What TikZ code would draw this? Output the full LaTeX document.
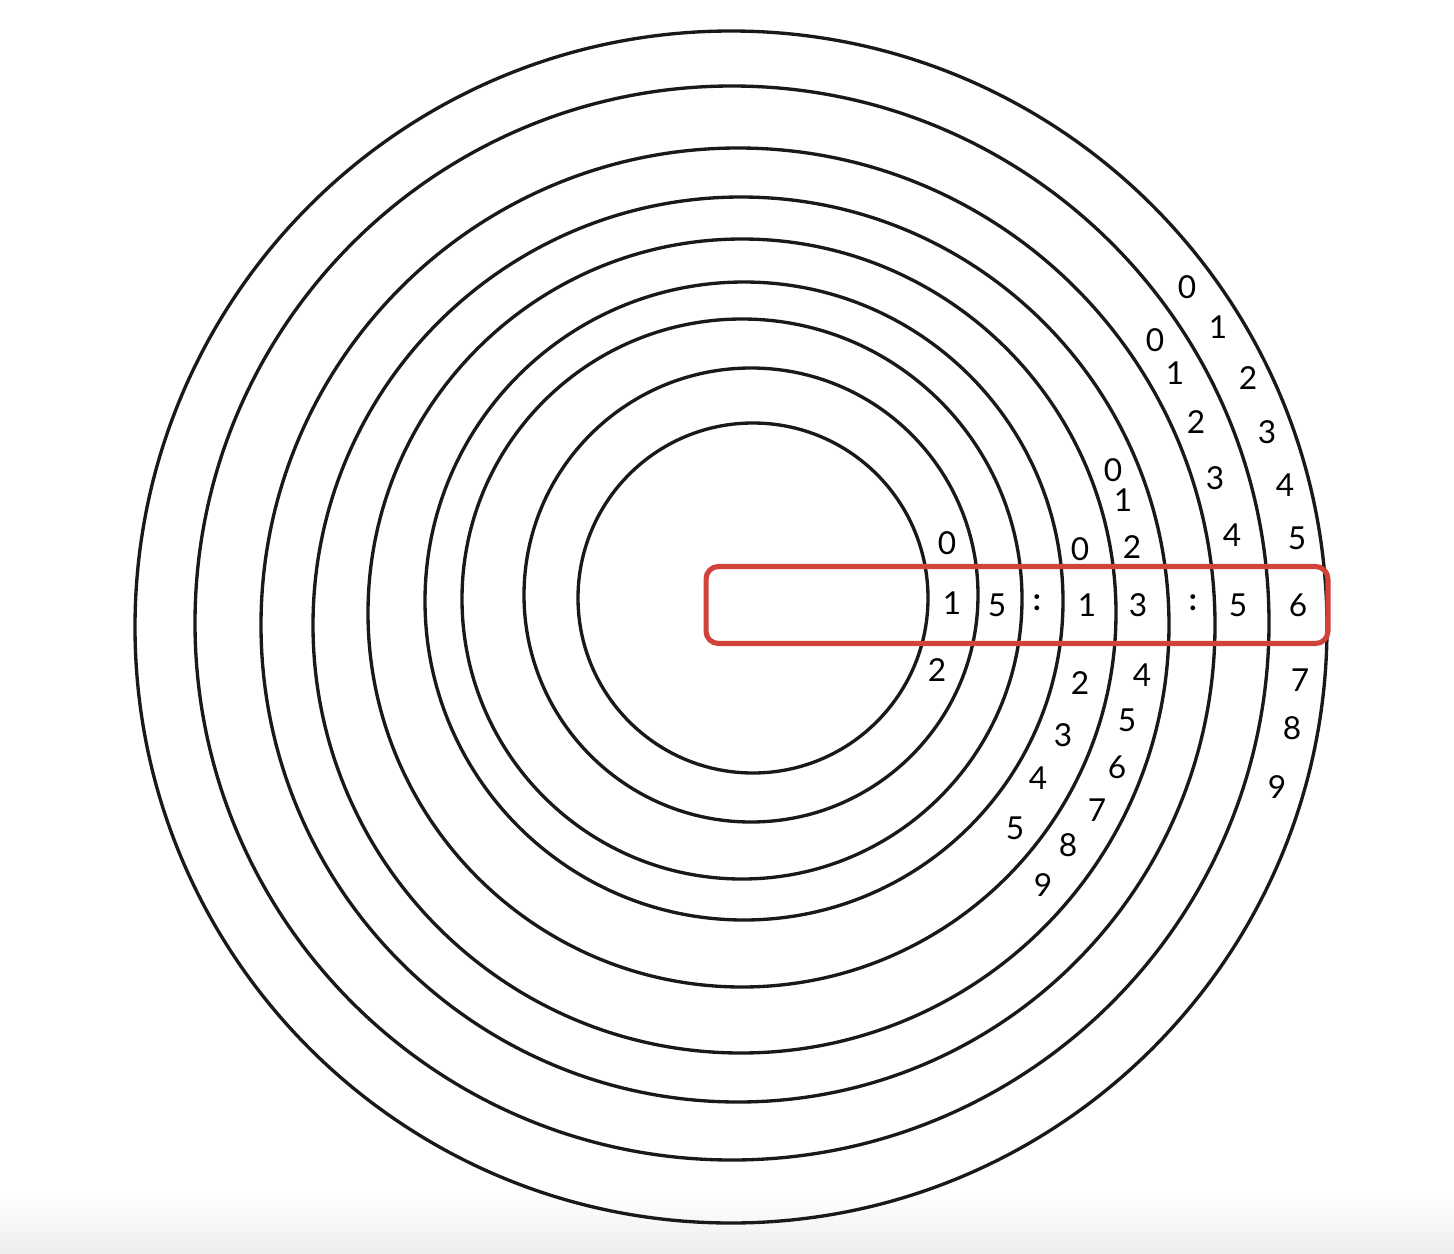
\documentclass[tikz,border=0pt]{standalone}
\usepackage{fontspec}
\setsansfont{Lato}
\definecolor{fensterrot}{RGB}{208,66,58}
\tikzset{
  ring/.style={line width=1.9pt, black!90},
  ziffer/.style={font=\sffamily\fontsize{18}{20}\selectfont, inner sep=0pt},
  fenster/.style={draw=fensterrot, line width=2.9pt, rounded corners=7pt}
}
\begin{document}
\begin{tikzpicture}[x=0.02cm, y=-0.02cm]

  % Rahmen
  \useasboundingbox (0,0) rectangle (1454,1254);
  \shade[top color=white, bottom color=black!7] (0,1195) rectangle (1454,1254);

  % Ringe (Mittelpunkt x/y, Radius)
  \foreach \cx/\cy/\r in {753/598/175, 751/595/227, 742/599/280, 744/601/319,
                          742/613/374, 741/625/428, 738/625/477, 732/623/537, 731/627/596} {
      \draw[ring] (\cx,\cy) circle[radius=\r];
    }

  % Ablesefenster
  \node[fenster, minimum width=12.44cm, minimum height=1.54cm] (fenster) at (1017,605) {};

  % Stunden
  \foreach \d/\x/\y in {0/947/543, 1/952/603, 2/937/670} {
      \node[ziffer] (h1-\d) at (\x,\y) {\d};
    }
  \node[ziffer] (h2-5) at (997,605) {5};
  \node[ziffer] (dp1) at (1037,603) {\textbf{:}};

  % Minuten
  \foreach \d/\x/\y in {0/1080/549, 1/1087/605, 2/1080/683, 3/1063/735, 4/1038/778, 5/1015/828} {
      \node[ziffer] (m1-\d) at (\x,\y) {\d};
    }
  \foreach \d/\x/\y in {0/1113/470, 1/1123/500, 2/1132/547, 3/1138/605, 4/1142/675,
                        5/1127/720, 6/1117/767, 7/1097/810, 8/1068/845, 9/1043/885} {
      \node[ziffer] (m2-\d) at (\x,\y) {\d};
    }
  \node[ziffer] (dp2) at (1193,603) {\textbf{:}};

  % Sekunden
  \foreach \d/\x/\y in {0/1155/340, 1/1175/373, 2/1196/422, 3/1215/478, 4/1232/535, 5/1238/605} {
      \node[ziffer] (s1-\d) at (\x,\y) {\d};
    }
  \foreach \d/\x/\y in {0/1187/287, 1/1218/327, 2/1248/378, 3/1267/432, 4/1285/485,
                        5/1297/538, 6/1298/605, 7/1300/680, 8/1292/728, 9/1277/787} {
      \node[ziffer] (s2-\d) at (\x,\y) {\d};
    }

\end{tikzpicture}
\end{document}
